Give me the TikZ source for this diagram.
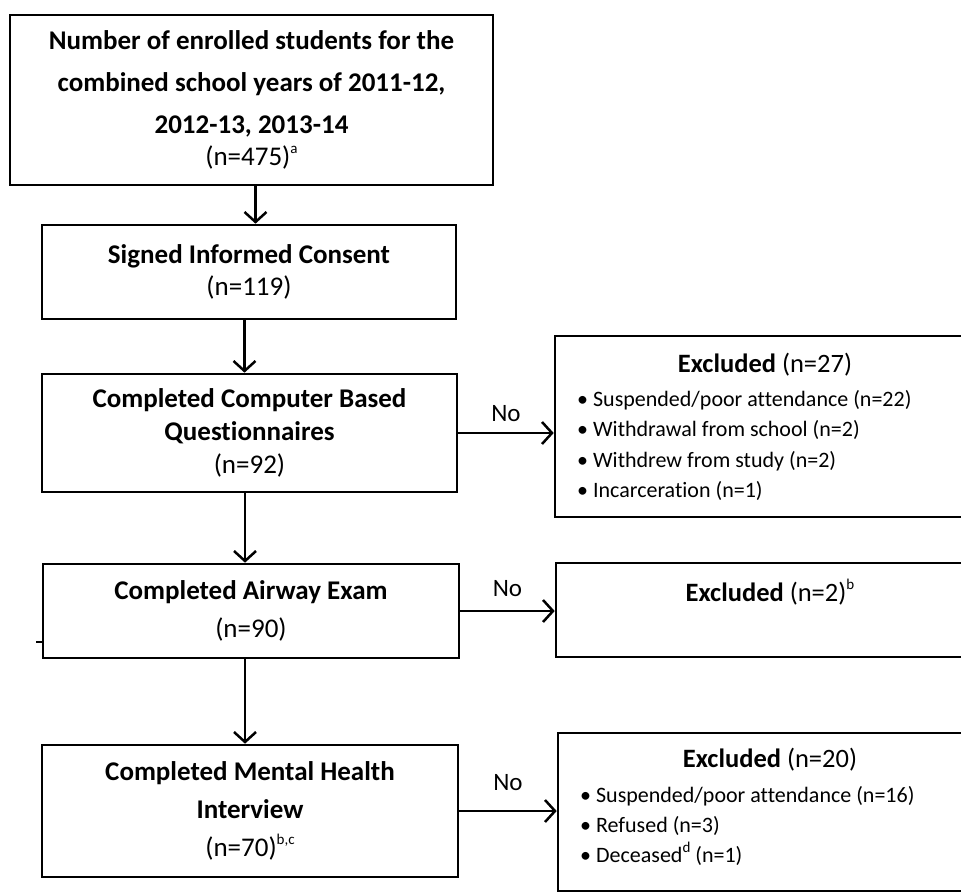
\documentclass[tikz,border=0pt]{standalone}
\usepackage{fontspec}
\setmainfont[Ligatures=NoCommon]{Carlito}
\usetikzlibrary{arrows.meta}
\newcommand\sps[1]{\raisebox{0.45em}{\fontsize{15}{15}\selectfont #1}}
\begin{document}
\begin{tikzpicture}[x=1pt,y=-1pt,
  box/.style={draw=black, line width=2.6pt, inner sep=0pt, align=center},
  arr/.style={line width=2.5pt, -{Straight Barb[length=10pt,width=22pt]}},
  lbl/.style={inner sep=0pt, font=\fontsize{25}{28}\selectfont},
  ttl/.style={inner sep=0pt, font=\fontsize{26.5}{30}\selectfont},
  lst/.style={inner sep=0pt, anchor=west, align=left}
]
\useasboundingbox (0,0) rectangle (961,893);
\clip (0,0) rectangle (961,893);

% main column
\node[box, minimum width=483pt, minimum height=170pt, font=\fontsize{27}{42}\selectfont] (b1) at (251.5,100)
  {\textbf{Number of enrolled students for the}\\ \textbf{combined school years of 2011-12,}\\ \textbf{2012-13, 2013-14}\\[-10pt] (n=475)\sps{a}};
\node[box, minimum width=414pt, minimum height=94pt, font=\fontsize{27}{32}\selectfont] (b2) at (249,272)
  {\textbf{Signed Informed Consent}\\ (n=119)};
\node[box, minimum width=415pt, minimum height=118pt, font=\fontsize{27}{33}\selectfont] (b3) at (249.5,433)
  {\textbf{Completed Computer Based}\\ \textbf{Questionnaires}\\ (n=92)};
\node[box, minimum width=416pt, minimum height=94pt, font=\fontsize{27}{38}\selectfont] (b4) at (251,611)
  {\textbf{Completed Airway Exam}\\ (n=90)};
\node[box, minimum width=416pt, minimum height=132pt, font=\fontsize{27}{38}\selectfont] (b5) at (250,811)
  {\textbf{Completed Mental Health}\\ \textbf{Interview}\\ (n=70)\sps{b,c}};

% excluded boxes
\node[box, minimum width=420pt, minimum height=181pt] (e1) at (765,426.5) {};
\node[box, minimum width=428pt, minimum height=94pt] (e2) at (770,610) {};
\node[box, minimum width=424pt, minimum height=158pt] (e3) at (770,812) {};

\node[ttl] (t1) at (765,365) {\textbf{Excluded} (n=27)};
\node[ttl] (t2) at (770,592) {\textbf{Excluded} (n=2)\sps{b}};
\node[ttl] (t3) at (770,760) {\textbf{Excluded} (n=20)};

\node[lst, font=\fontsize{22}{30.3}\selectfont] (l1) at (577,445.5)
  {\textbullet\ Suspended/poor attendance (n=22)\\ \textbullet\ Withdrawal from school (n=2)\\ \textbullet\ Withdrew from study (n=2)\\ \textbullet\ Incarceration (n=1)};
\node[lst, font=\fontsize{22}{30}\selectfont] (l3) at (580,826)
  {\textbullet\ Suspended/poor attendance (n=16)\\ \textbullet\ Refused (n=3)\\ \textbullet\ Deceased\sps{d} (n=1)};

% vertical arrows
\draw[arr] ([xshift=4pt]b1.south) -- ([xshift=4pt]b1.south |- b2.north);
\draw[arr] ([xshift=-4.5pt]b2.south) -- ([xshift=-4.5pt]b2.south |- b3.north);
\draw[arr] ([xshift=-4.5pt]b3.south) -- ([xshift=-4.5pt]b3.south |- b4.north);
\draw[arr] ([xshift=-6pt]b4.south) -- ([xshift=-6pt]b4.south |- b5.north);

% horizontal arrows
\draw[arr] (b3.east) -- (b3.east -| e1.west) node[lbl, midway, above=10pt] (n1) {No};
\draw[arr] (b4.east) -- (b4.east -| e2.west) node[lbl, midway, above=13pt] (n2) {No};
\draw[arr] (b5.east) -- (b5.east -| e3.west) node[lbl, midway, above=19pt] (n3) {No};

% small tick at left of airway box
\draw[line width=2pt] ([yshift=-31pt]b4.west) -- ++(-6,0);
\end{tikzpicture}
\end{document}
